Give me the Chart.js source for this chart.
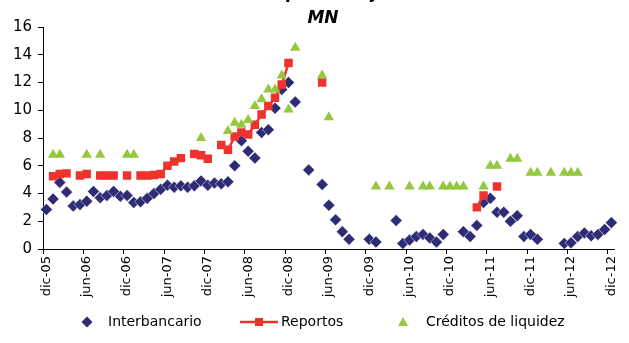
<!DOCTYPE html>
<html>
<head>
<meta charset="utf-8">
<script src="https://cdn.jsdelivr.net/npm/chart.js@4.4.1/dist/chart.umd.min.js"></script>
<style>
  html, body { margin: 0; padding: 0; background: #fff; }
  #chart { display: block; }
</style>
</head>
<body>
<canvas id="chart" width="629" height="343"></canvas>
<script>
// monthly categories, dic-05 .. dic-12
const monthNames = ["ene", "feb", "mar", "abr", "may", "jun", "jul", "ago", "sep", "oct", "nov", "dic"];
const categories = [];
for (let k = 0; k < 85; k++) {
  const m = (11 + k) % 12;
  const yy = 5 + Math.floor((11 + k) / 12);
  categories.push(monthNames[m] + "-" + String(yy).padStart(2, "0"));
}

const tickLabels = ["dic-05", "jun-06", "dic-06", "jun-07", "dic-07", "jun-08", "dic-08",
  "jun-09", "dic-09", "jun-10", "dic-10", "jun-11", "dic-11", "jun-12", "dic-12"];

const legendLabels = ["Interbancario", "Reportos", "Créditos de liquidez"];

const interbancario = [
  2.85, 3.6, 4.8, 4.1, 3.1, 3.2, 3.45, 4.15, 3.7, 3.85, 4.15, 3.8,
  3.85, 3.35, 3.4, 3.65, 4.0, 4.3, 4.6, 4.45, 4.55, 4.45, 4.55, 4.9,
  4.6, 4.75, 4.7, 4.85, 6.0, 7.8, 7.05, 6.55, 8.4, 8.6, 10.15, 11.5,
  12.0, 10.6, null, 5.7, null, 4.65, 3.15, 2.1, 1.25, 0.7, null, null,
  0.7, 0.5, null, null, 2.05, 0.4, 0.65, 0.9, 1.05, 0.8, 0.5, 1.05,
  null, null, 1.25, 0.9, 1.7, 3.35, 3.65, 2.65, 2.65, 2.0, 2.4, 0.9,
  1.05, 0.7, null, null, null, 0.4, 0.45, 0.9, 1.15, 0.95, 1.05, 1.4,
  1.9
];

const reportos = [
  null, 5.25, 5.4, 5.45, null, 5.3, 5.4, null, 5.3, 5.3, 5.3, null,
  5.3, null, 5.3, 5.3, 5.33, 5.4, 6.0, 6.3, 6.55, null, 6.85, 6.75,
  6.5, null, 7.5, 7.15, 8.1, 8.4, 8.25, 8.95, 9.7, 10.3, 10.9, 11.85,
  13.4, null, null, null, null, 12.0, null, null, null, null, null, null,
  null, null, null, null, null, null, null, null, null, null, null, null,
  null, null, null, null, 3.0, 3.85, null, 4.5, null, null, null, null,
  null, null, null, null, null, null, null, null, null, null, null, null,
  null
];

const creditosLiquidez = [
  null, 6.8, 6.8, null, null, null, 6.8, null, 6.8, null, null, null,
  6.8, 6.8, null, null, null, null, null, null, null, null, null, 8.0,
  null, null, null, 8.5, 9.1, 8.95, 9.3, 10.3, 10.8, 11.5, 11.5, 12.5,
  10.05, 14.5, null, null, null, 12.5, 9.5, null, null, null, null, null,
  null, 4.5, null, 4.5, null, null, 4.5, null, 4.5, 4.5, null, 4.5,
  4.5, 4.5, 4.5, null, null, 4.5, 6.0, 6.0, null, 6.5, 6.5, null,
  5.5, 5.5, null, 5.5, null, 5.5, 5.5, 5.5, null, null, null, null,
  null
];

const navy = "#2e2c74";
const red = "#ee332d";
const green = "#94c83e";

Chart.defaults.font.family = "'DejaVu Sans', sans-serif";
Chart.defaults.color = "#000";

const titlePlugin = {
  id: "titleLines",
  afterDraw(chart) {
    const ctx = chart.ctx;
    ctx.save();
    ctx.fillStyle = "#000";
    ctx.font = "italic bold 17px 'DejaVu Sans'";
    ctx.textAlign = "center";
    ctx.textBaseline = "alphabetic";
    ctx.fillText("(en porcentaje)", 323, -2);
    ctx.fillText("MN", 323, 23);
    ctx.restore();
  }
};

const legendPlugin = {
  id: "bottomLegend",
  afterDraw(chart) {
    const ctx = chart.ctx;
    const y = 322;
    ctx.save();
    // diamond
    ctx.fillStyle = navy;
    ctx.beginPath();
    ctx.moveTo(87, y - 5.5);
    ctx.lineTo(92.5, y);
    ctx.lineTo(87, y + 5.5);
    ctx.lineTo(81.5, y);
    ctx.closePath();
    ctx.fill();
    // line + square
    ctx.strokeStyle = red;
    ctx.lineWidth = 2.5;
    ctx.beginPath();
    ctx.moveTo(240, y);
    ctx.lineTo(278, y);
    ctx.stroke();
    ctx.fillStyle = red;
    ctx.fillRect(255, y - 4, 8, 8);
    // triangle
    ctx.fillStyle = green;
    ctx.beginPath();
    ctx.moveTo(403, y - 5);
    ctx.lineTo(408, y + 4);
    ctx.lineTo(398, y + 4);
    ctx.closePath();
    ctx.fill();
    // texts
    ctx.fillStyle = "#000";
    ctx.font = "14px 'DejaVu Sans'";
    ctx.textBaseline = "middle";
    ctx.textAlign = "left";
    ctx.fillText(legendLabels[0], 108, y);
    ctx.fillText(legendLabels[1], 281, y);
    ctx.fillText(legendLabels[2], 426, y);
    ctx.restore();
  }
};

const ctx = document.getElementById("chart").getContext("2d");

new Chart(ctx, {
  type: "line",
  data: {
    labels: categories,
    datasets: [
      {
        label: legendLabels[0],
        data: interbancario,
        showLine: false,
        pointStyle: "rectRot",
        pointRadius: 6,
        backgroundColor: navy,
        borderColor: "#ffffff",
        pointBorderWidth: 0.5,
        order: 2
      },
      {
        label: legendLabels[1],
        data: reportos,
        showLine: true,
        spanGaps: false,
        borderColor: red,
        borderWidth: 2.5,
        pointStyle: "rect",
        pointRadius: 6,
        pointBackgroundColor: red,
        pointBorderColor: red,
        pointBorderWidth: 0,
        order: 1
      },
      {
        label: legendLabels[2],
        data: creditosLiquidez,
        showLine: false,
        pointStyle: "triangle",
        pointRadius: 6,
        backgroundColor: green,
        borderColor: green,
        pointBorderWidth: 0,
        order: 0
      }
    ]
  },
  options: {
    responsive: false,
    animation: false,
    devicePixelRatio: 1,
    layout: { padding: { top: 27, right: 2, left: 0, bottom: 0 } },
    plugins: {
      legend: { display: false },
      title: { display: false },
      tooltip: { enabled: false }
    },
    scales: {
      x: {
        type: "category",
        offset: true,
        grid: {
          offset: true,
          drawOnChartArea: false,
          drawTicks: true,
          tickLength: 5,
          color: "rgba(0,0,0,0)",
          tickColor: (c) => (c.index % 6 === 0 ? "#000" : "rgba(0,0,0,0)"),
          tickWidth: 1
        },
        border: { display: true, color: "#000", width: 1 },
        ticks: {
          autoSkip: false,
          minRotation: 90,
          maxRotation: 90,
          padding: 2,
          font: { size: 13 },
          color: "#000",
          callback: (val, idx) => (idx % 6 === 0 ? tickLabels[idx / 6] : "")
        },
        afterFit: (scale) => { scale.height = 94; }
      },
      y: {
        min: 0,
        max: 16,
        grid: {
          drawOnChartArea: false,
          drawTicks: true,
          tickLength: 5,
          color: "#000",
          tickColor: "#000"
        },
        border: { display: true, color: "#000", width: 1 },
        ticks: {
          stepSize: 2,
          padding: 6,
          font: { size: 15 },
          color: "#000"
        },
        afterFit: (scale) => { scale.width = 43; }
      }
    }
  },
  plugins: [titlePlugin, legendPlugin]
});
</script>
</body>
</html>
